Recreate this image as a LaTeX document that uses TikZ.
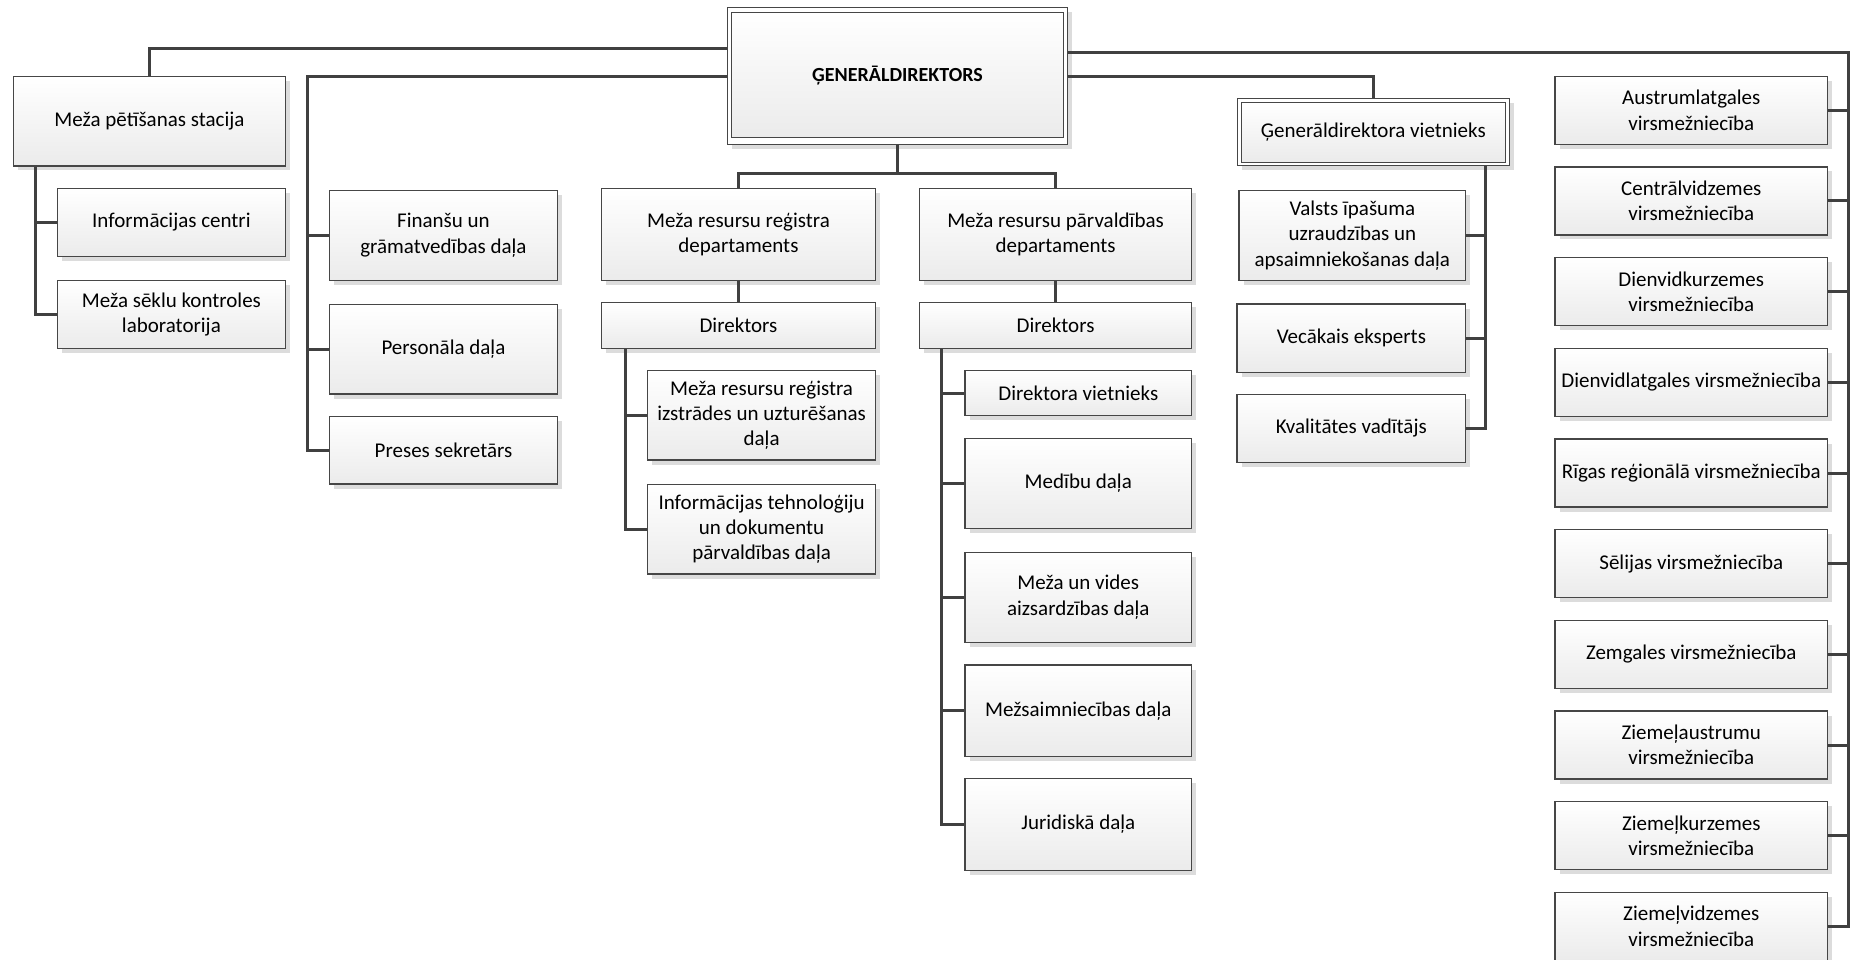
\documentclass[tikz,border=0pt]{standalone}
\usepackage{fontspec}
\setmainfont{Carlito}
\usetikzlibrary{shadows}
\definecolor{linecol}{RGB}{64,64,64}
\definecolor{bordercol}{RGB}{70,70,70}
\definecolor{boxbot}{RGB}{235,235,235}
\definecolor{shadowcol}{RGB}{220,220,220}
\tikzset{
  orgshadow/.style={drop shadow={shadow xshift=4.5pt, shadow yshift=-4.5pt, fill=shadowcol, opacity=1}},
  orgbox/.style={draw=bordercol, line width=1.1pt, top color=white, bottom color=boxbot,
    inner xsep=2pt, inner ysep=1pt, align=center, text=black,
    font=\fontsize{21}{25.4}\selectfont, orgshadow},
  conn/.style={draw=linecol, line width=3pt},
}
\newcommand{\obox}[6]{\node[orgbox, minimum width={(#4-#2)*1pt}, minimum height={(#5-#3)*1pt}] (#1) at ({(#2+#4)/2},{(#3+#5)/2}) {#6};}
\begin{document}
\begin{tikzpicture}[x=1pt,y=-1pt]
\useasboundingbox (0,0) rectangle (1850,960);
\fill[white] (0,0) rectangle (1850,960);

% top: general director
\node[draw=bordercol, line width=1pt, fill=white, orgshadow, minimum width=340.4pt, minimum height=136.3pt] (gd) at (897.5,76.15) {};
\node[draw=bordercol, line width=1pt, top color=white, bottom color=boxbot, minimum width=332.4pt, minimum height=125.7pt, font=\fontsize{20}{24}\selectfont\bfseries, text=black] (gdin) at (897.5,75.15) {ĢENERĀLDIREKTORS};

% left branch
\obox{mps}{13.4}{76.7}{285.5}{166}{Meža pētīšanas stacija}
\obox{ic}{57.3}{188.3}{285.5}{256.3}{Informācijas centri}
\obox{mskl}{57.3}{280.3}{285.5}{348.3}{Meža sēklu kontroles\\laboratorija}
\obox{fgd}{329.4}{190.3}{557.5}{280.3}{Finanšu un\\grāmatvedības daļa}
\obox{pd}{329.4}{304.3}{557.5}{394}{Personāla daļa}
\obox{ps}{329.4}{416.3}{557.5}{484}{Preses sekretārs}

% departments
\obox{mrr}{601.2}{188.5}{875.7}{280.3}{Meža resursu reģistra\\departaments}
\obox{mrp}{919.5}{188.5}{1191.6}{280.3}{Meža resursu pārvaldības\\departaments}
\obox{dirl}{601.2}{302.3}{875.7}{348.3}{Direktors}
\obox{dirr}{919.5}{302.3}{1191.6}{348.3}{Direktors}
\obox{mrri}{647.5}{370.5}{875.7}{460}{Meža resursu reģistra\\izstrādes un uzturēšanas\\daļa}
\obox{itd}{647.5}{484.3}{875.7}{574}{Informācijas tehnoloģiju\\un dokumentu\\pārvaldības daļa}
\obox{dv}{965}{370.4}{1191.6}{415.8}{Direktora vietnieks}
\obox{md}{965}{438.6}{1191.6}{528.5}{Medību daļa}
\obox{mva}{965}{552.3}{1191.6}{642.3}{Meža un vides\\aizsardzības daļa}
\obox{mz}{965}{665}{1191.6}{756.3}{Mežsaimniecības daļa}
\obox{jd}{965}{778.6}{1191.6}{870.5}{Juridiskā daļa}

% deputy general director
\node[draw=bordercol, line width=1pt, fill=white, orgshadow, minimum width=272.6pt, minimum height=67.7pt] (gdv) at (1373.3,132.15) {};
\node[draw=bordercol, line width=1pt, top color=white, bottom color=boxbot, minimum width=264.6pt, minimum height=60pt, font=\fontsize{21}{25.4}\selectfont, text=black] (gdvin) at (1373.3,132.3) {Ģenerāldirektora vietnieks};
\obox{viu}{1239}{190.3}{1465.7}{280.3}{Valsts īpašuma\\uzraudzības un\\apsaimniekošanas daļa}
\obox{ve}{1237}{304}{1465.7}{372.3}{Vecākais eksperts}
\obox{kv}{1237}{394.3}{1465.7}{462.3}{Kvalitātes vadītājs}

% regional offices
\obox{r1}{1555}{76.3}{1827.5}{144.3}{Austrumlatgales\\virsmežniecība}
\obox{r2}{1555}{167}{1827.5}{235}{Centrālvidzemes\\virsmežniecība}
\obox{r3}{1555}{257.6}{1827.5}{325.6}{Dienvidkurzemes\\virsmežniecība}
\obox{r4}{1555}{348.3}{1827.5}{416.3}{Dienvidlatgales virsmežniecība}
\obox{r5}{1555}{439}{1827.5}{507}{Rīgas reģionālā virsmežniecība}
\obox{r6}{1555}{529.6}{1827.5}{597.6}{Sēlijas virsmežniecība}
\obox{r7}{1555}{620.3}{1827.5}{688.3}{Zemgales virsmežniecība}
\obox{r8}{1555}{711}{1827.5}{779}{Ziemeļaustrumu\\virsmežniecība}
\obox{r9}{1555}{801.6}{1827.5}{869.6}{Ziemeļkurzemes\\virsmežniecība}
\obox{r10}{1555}{892.3}{1827.5}{960.3}{Ziemeļvidzemes\\virsmežniecība}

% bus coordinates
\coordinate (busA) at (307.5,0);
\coordinate (busB) at (35.6,0);
\coordinate (busL) at (625.7,0);
\coordinate (busD) at (941.7,0);
\coordinate (busG) at (1485,0);
\coordinate (busR) at (1848.5,0);
\coordinate (levD) at (0,174);

% connectors
\draw[conn] ([yshift=27.85pt]gd.west) -| (mps.north);
\draw[conn] (gd.west) -| (busA |- ps.west) -- (ps.west);
\draw[conn] (busA |- fgd.west) -- (fgd.west);
\draw[conn] (busA |- pd.west) -- (pd.west);

\draw[conn] (busB |- mps.south) -- (busB |- mskl.west) -- (mskl.west);
\draw[conn] (busB |- ic.west) -- (ic.west);

\draw[conn] (gd.south) -- (gd.south |- levD);
\draw[conn] (mrr.north) -- (mrr.north |- levD) -- (mrp.north |- levD) -- (mrp.north);
\draw[conn] (mrr.south) -- (dirl.north);
\draw[conn] (mrp.south) -- (dirr.north);

\draw[conn] (busL |- dirl.south) -- (busL |- itd.west) -- (itd.west);
\draw[conn] (busL |- mrri.west) -- (mrri.west);

\draw[conn] (busD |- dirr.south) -- (busD |- jd.west) -- (jd.west);
\draw[conn] (busD |- dv.west) -- (dv.west);
\draw[conn] (busD |- md.west) -- (md.west);
\draw[conn] (busD |- mva.west) -- (mva.west);
\draw[conn] (busD |- mz.west) -- (mz.west);

\draw[conn] (gd.east) -| (gdv.north);
\draw[conn] (busG |- gdv.south) -- (busG |- kv.east) -- (kv.east);
\draw[conn] (busG |- viu.east) -- (viu.east);
\draw[conn] (busG |- ve.east) -- (ve.east);

\draw[conn] ([yshift=23.85pt]gd.east) -| (busR |- r10.east) -- (r10.east);
\foreach \r in {r1,r2,r3,r4,r5,r6,r7,r8,r9}{
  \draw[conn] (busR |- \r.east) -- (\r.east);
}
\end{tikzpicture}
\end{document}
